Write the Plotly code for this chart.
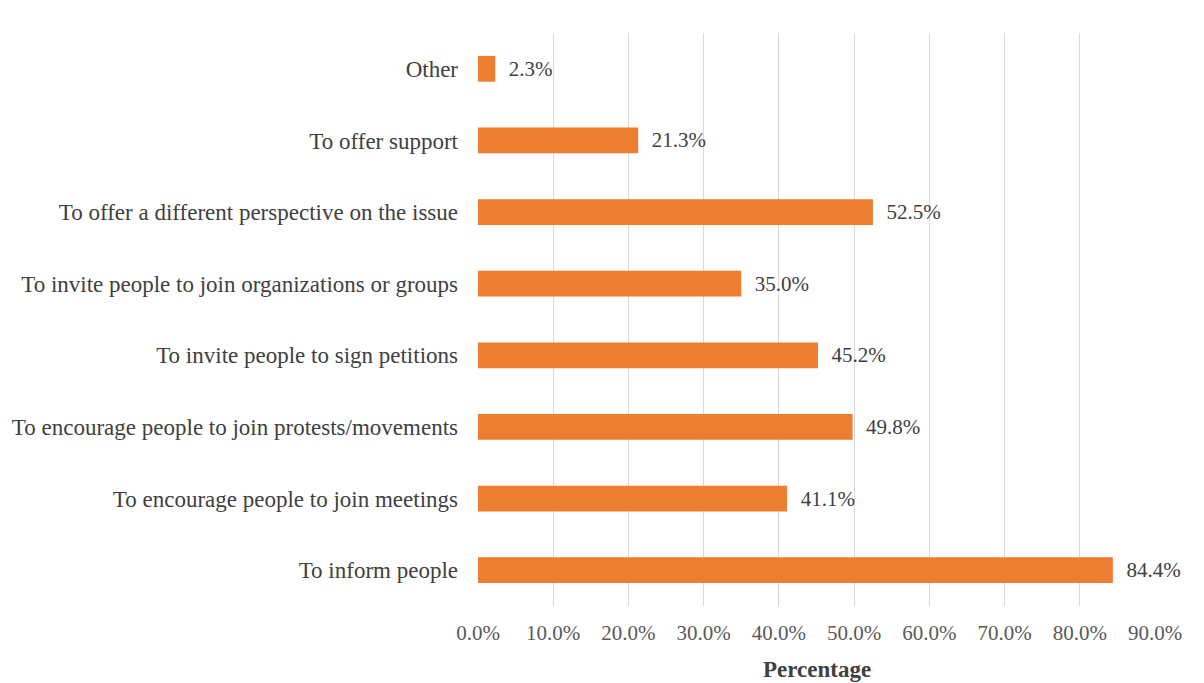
import plotly.graph_objects as go

# Reasons for sharing, listed bottom to top as drawn
categories = [
    "To inform people",
    "To encourage people to join meetings",
    "To encourage people to join protests/movements",
    "To invite people to sign petitions",
    "To invite people to join organizations or groups",
    "To offer a different perspective on the issue",
    "To offer support",
    "Other",
]
percentages = [84.4, 41.1, 49.8, 45.2, 35.0, 52.5, 21.3, 2.3]
tick_values = [0, 10, 20, 30, 40, 50, 60, 70, 80, 90]
tick_labels = [f"{v:.1f}%" for v in tick_values]
x_title = "Percentage"

SERIF = "Liberation Serif"

fig = go.Figure(
    go.Bar(
        y=categories,
        x=percentages,
        orientation="h",
        width=0.36,
        marker=dict(color="#ED7D31", line=dict(width=0)),
        text=[f"  {v:.1f}%" for v in percentages],
        textposition="outside",
        textfont=dict(family=SERIF, size=21, color="#404040"),
        cliponaxis=False,
    )
)

fig.update_layout(
    width=1204,
    height=683,
    margin=dict(l=478, r=49, t=33, b=77),
    paper_bgcolor="white",
    plot_bgcolor="white",
    showlegend=False,
    font=dict(family=SERIF, color="#404040"),
)

fig.update_xaxes(
    range=[0, 90],
    tickvals=tick_values,
    ticktext=tick_labels,
    showgrid=True,
    gridcolor="#D9D9D9",
    gridwidth=1,
    zeroline=False,
    showline=False,
    ticks="",
    automargin=False,
    ticklabelstandoff=12,
    tickfont=dict(family=SERIF, size=21, color="#595959"),
)

# Axis title placed below the tick labels
fig.add_annotation(
    text=f"<b>{x_title}</b>",
    xref="paper", yref="paper",
    x=0.5, y=0,
    xanchor="center", yanchor="middle",
    yshift=-63,
    showarrow=False,
    font=dict(family=SERIF, size=23, color="#404040"),
)

fig.update_yaxes(
    categoryorder="array",
    categoryarray=categories,
    showgrid=False,
    zeroline=False,
    showline=False,
    ticks="",
    automargin=False,
    ticklabelstandoff=19,
    tickfont=dict(family=SERIF, size=23, color="#404040"),
)

fig.write_html("out.html")
